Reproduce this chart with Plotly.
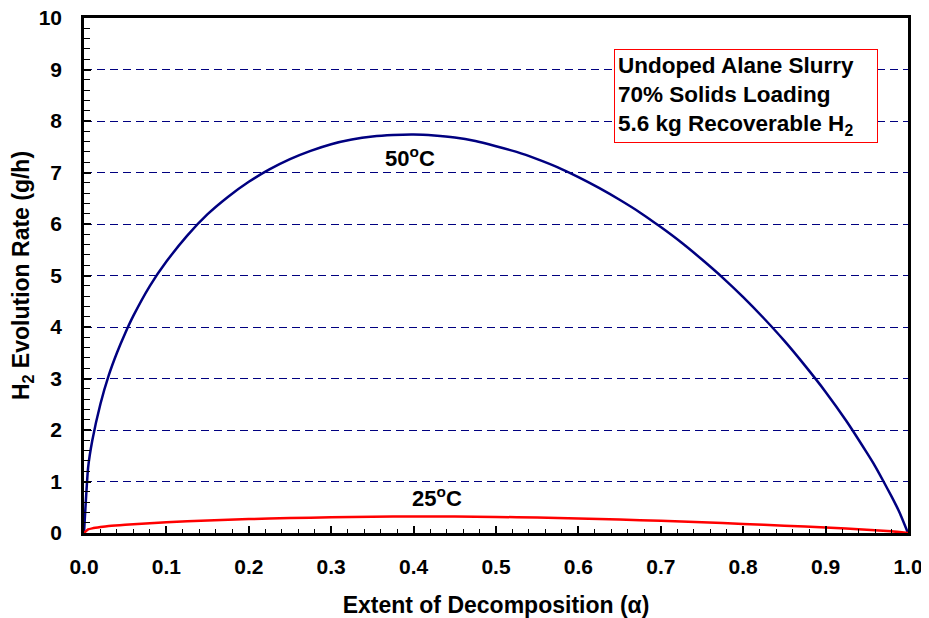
import plotly.graph_objects as go

# Extent of decomposition (alpha) and H2 evolution rate (g/h)
alpha_50 = [0, 0.005, 0.01, 0.02, 0.03, 0.04, 0.05, 0.06, 0.08, 0.10, 0.125, 0.15, 0.175,
            0.20, 0.225, 0.25, 0.275, 0.30, 0.325, 0.35, 0.375, 0.40, 0.425, 0.45, 0.475,
            0.50, 0.525, 0.55, 0.575, 0.60, 0.625, 0.65, 0.675, 0.70, 0.725,
            0.75, 0.775, 0.80, 0.825, 0.85, 0.875, 0.90, 0.925, 0.95, 0.96, 0.97, 0.98, 0.99, 1.0]
rate_50 = [0, 1.27, 1.79, 2.51, 3.06, 3.50, 3.88, 4.22, 4.80, 5.27, 5.77, 6.19, 6.53,
           6.82, 7.06, 7.26, 7.42, 7.55, 7.64, 7.70, 7.73, 7.74, 7.72, 7.68, 7.61,
           7.51, 7.40, 7.26, 7.10, 6.91, 6.70, 6.47, 6.22, 5.94, 5.64,
           5.31, 4.96, 4.58, 4.17, 3.73, 3.25, 2.74, 2.18, 1.56, 1.30, 1.01, 0.71, 0.39, 0]

alpha_25 = [0, 0.005, 0.01, 0.02, 0.03, 0.05, 0.08, 0.10, 0.15, 0.20, 0.25, 0.30,
            0.35, 0.40, 0.45, 0.50, 0.55, 0.60, 0.65, 0.70, 0.75, 0.80, 0.85,
            0.90, 0.95, 0.98, 1.0]
rate_25 = [0, 0.07, 0.09, 0.115, 0.135, 0.16, 0.19, 0.21, 0.245, 0.27, 0.29, 0.305,
           0.317, 0.322, 0.32, 0.312, 0.30, 0.283, 0.262, 0.237, 0.208, 0.177, 0.143,
           0.107, 0.065, 0.032, 0]

series_labels = ["50<sup>o</sup>C", "25<sup>o</sup>C"]
label_pos = [(0.396, 7.30), (0.428, 0.69)]
box_text = "Undoped Alane Slurry<br>70% Solids Loading<br>5.6 kg Recoverable H<sub>2</sub>"

FONT = "Liberation Sans, Arial, sans-serif"

fig = go.Figure()
fig.add_trace(go.Scatter(x=alpha_50, y=rate_50, mode="lines",
                         line=dict(color="#000080", width=2.5, shape="spline", smoothing=0.5),
                         showlegend=False))
fig.add_trace(go.Scatter(x=alpha_25, y=rate_25, mode="lines",
                         line=dict(color="#FF0000", width=2.5, shape="spline", smoothing=0.5),
                         showlegend=False))

for txt, (lx, ly) in zip(series_labels, label_pos):
    fig.add_annotation(x=lx, y=ly, text="<b>" + txt + "</b>", showarrow=False,
                       font=dict(family=FONT, size=22, color="black"))

fig.add_annotation(xref="paper", yref="paper", x=(614 - 84) / 824, y=(533 - 49) / 515,
                   xanchor="left", yanchor="top", align="left", valign="middle",
                   width=256, height=86,
                   text="<b>" + box_text + "</b>", showarrow=False,
                   font=dict(family=FONT, size=22.5, color="black"),
                   bordercolor="#FF0000", borderwidth=1, borderpad=3, bgcolor="white")

fig.update_layout(
    width=921, height=610,
    margin=dict(l=76, r=21, t=10, b=85, autoexpand=False),
    paper_bgcolor="white", plot_bgcolor="white",
    font=dict(family=FONT, size=21, color="black"),
    xaxis=dict(
        range=[0, 1], dtick=0.1, tickformat=".1f", automargin=False,
        ticks="inside", ticklen=7, tickwidth=1.5, tickcolor="black",
        minor=dict(dtick=0.02, ticks="inside", ticklen=4, tickcolor="black", tickwidth=1, showgrid=False),
        showline=True, linecolor="black", linewidth=2.5, mirror=True,
        showgrid=False, zeroline=False,
        ticklabelstandoff=13, ticklabeloverflow="allow",
        tickfont=dict(family=FONT, size=21, weight="bold"),
        title=dict(text="<b>Extent of Decomposition (α)</b>", standoff=22,
                   font=dict(family=FONT, size=23)),
    ),
    yaxis=dict(
        range=[0, 10], dtick=1, automargin=False,
        ticks="inside", ticklen=7, tickwidth=1.5, tickcolor="black",
        minor=dict(dtick=0.2, ticks="inside", ticklen=6, tickcolor="black", tickwidth=1, showgrid=False),
        showline=True, linecolor="black", linewidth=2.5, mirror=True,
        showgrid=True, gridcolor="#000080", gridwidth=1, griddash="8px,5px",
        zeroline=False,
        ticklabelstandoff=15, ticklabeloverflow="allow",
        tickfont=dict(family=FONT, size=21, weight="bold"),
        title=dict(text="<b>H<sub>2</sub> Evolution Rate (g/h)</b>", standoff=3,
                   font=dict(family=FONT, size=23)),
    ),
)

fig.write_html("out.html")
